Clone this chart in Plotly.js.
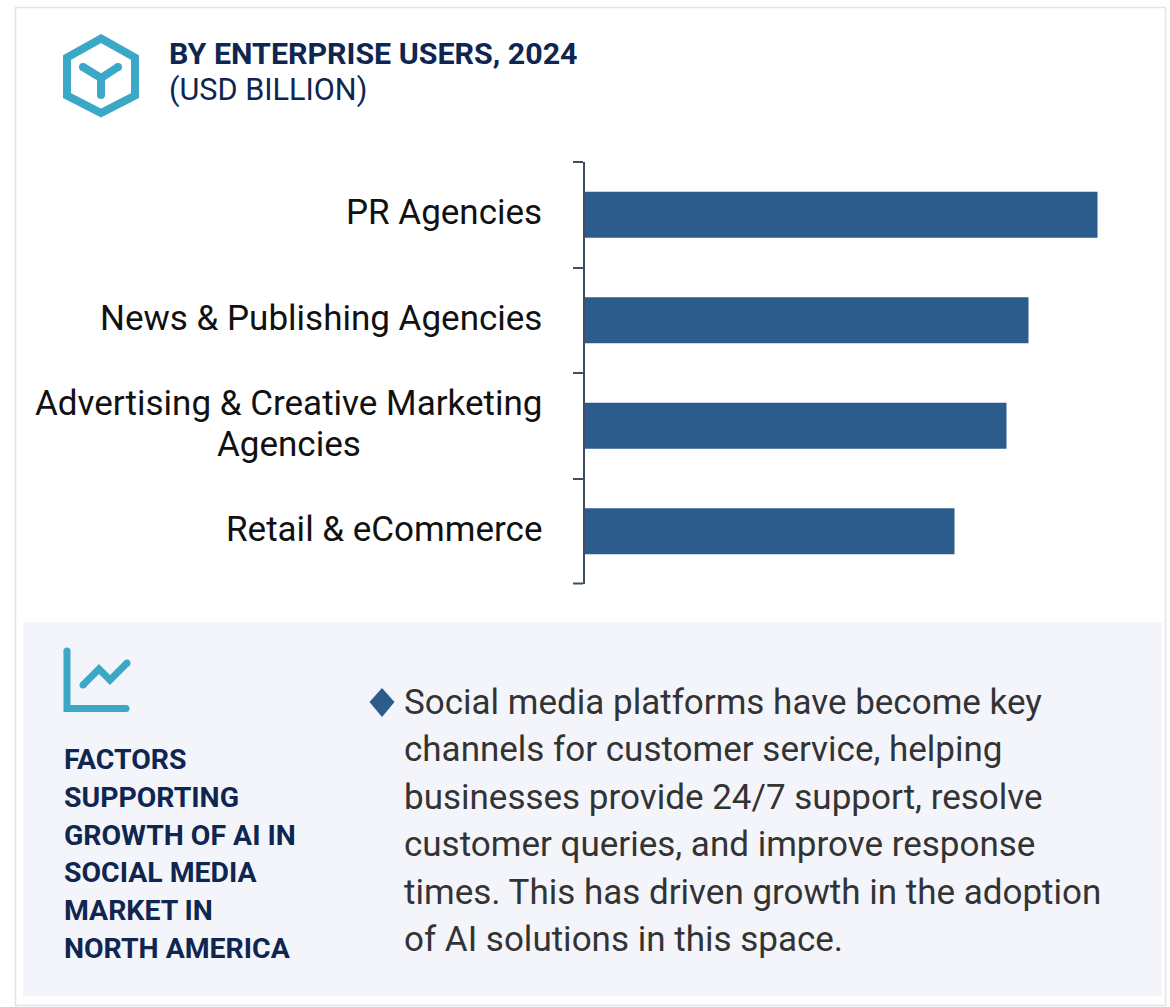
<!DOCTYPE html>
<html><head><meta charset="utf-8">
<script src="https://cdn.plot.ly/plotly-3.0.1.min.js"></script>
<style>html,body{margin:0;padding:0;background:#fff;overflow:hidden}#c{width:1170px;height:1007px}</style>
</head><body><div id="c"></div>
<script>
const categories = ["PR Agencies","News & Publishing Agencies","Advertising & Creative Marketing","Retail & eCommerce"];
const categorySecondLine = "Agencies";
const values = [2.565,2.22,2.11,1.85];
const titleBold = "BY ENTERPRISE USERS, 2024";
const titleUnit = "(USD BILLION)";
const factorLines = ["FACTORS","SUPPORTING","GROWTH OF AI IN","SOCIAL MEDIA","MARKET IN","NORTH AMERICA"];
const bodyLines = ["Social media platforms have become key","channels for customer service, helping","businesses provide 24/7 support, resolve","customer queries, and improve response","times. This has driven growth in the adoption","of AI solutions in this space."];

const W=1170,H=1007;
const px=x=>x/W, py=y=>1-y/H;
const F="Roboto, sans-serif";
const teal="#3aa8c6", navy="#0f2650", bar="#2b5c8c", axisCol="#3f4d66";
function poly(pts,close){return pts.map((p,i)=>(i?"L":"M")+px(p[0]).toFixed(5)+" "+py(p[1]).toFixed(5)).join(" ")+(close?" Z":"");}
function stroke(pts,w,col,close){return {type:"path",xref:"paper",yref:"paper",path:poly(pts,close),line:{color:col,width:w},fillcolor:"rgba(0,0,0,0)",layer:"above"};}
function dot(x,y,r,col){return {type:"circle",xref:"paper",yref:"paper",x0:px(x-r),x1:px(x+r),y0:py(y+r),y1:py(y-r),fillcolor:col,line:{width:0},layer:"above"};}
function rect(x0,y0,x1,y1,fill,line){return {type:"rect",xref:"paper",yref:"paper",x0:px(x0),x1:px(x1),y0:py(y1),y1:py(y0),fillcolor:fill,line:line||{width:0},layer:"below"};}
function label(t,x,y,size,col,bold){return {text:bold?"<b>"+t+"</b>":t,xref:"paper",yref:"paper",x:px(x),y:py(y),xanchor:"left",yanchor:"middle",showarrow:false,align:"left",borderpad:0,font:{family:F,size:size,color:col}};}

const shapes=[
 rect(15.5,7.5,1165.5,1005.5,"#ffffff",{color:"#e2e2ea",width:1.5}),
 rect(23,622,1162,996,"#f4f5fa"),
 stroke([[101,38.5],[135,57.5],[135,95.5],[101,113],[67,95.5],[67,57.5]],8,teal,true),
 stroke([[83,67],[101,78],[118,67]],8,teal),
 stroke([[101,78],[101,95]],8,teal),
 dot(83,67,4,teal),dot(118,67,4,teal),dot(101,95,4,teal),
 stroke([[67,651],[67,708.5],[126,708.5]],7,teal),
 dot(67,651,3.5,teal),dot(126,708.5,3.5,teal),
 stroke([[83,685],[99,669],[110,680],[127,663]],7,teal),
 dot(83,685,3.5,teal),dot(127,663,3.5,teal),
 stroke([[573,583.5],[583,583.5]],2,axisCol),
 {type:"path",xref:"paper",yref:"paper",path:poly([[382,688],[394.5,702],[382,717],[369.5,702]],true),fillcolor:bar,line:{width:0},layer:"above"}
];

const annotations=[
 label(titleBold,168,54,30.4,navy,true),
 label(titleUnit,168,90,30.6,navy,false)
];
categories.forEach((c,i)=>{
 const two=i===2;
 annotations.push({text:c,xref:"paper",yref:"y",x:px(542.5),y:c,xanchor:"right",yanchor:"middle",yshift:two?22:2,align:"right",showarrow:false,borderpad:0,font:{family:F,size:35,color:"#111111"}});
});
annotations.push({text:categorySecondLine,xref:"paper",yref:"y",x:px(288.5),y:categories[2],xanchor:"center",yanchor:"middle",yshift:-19,showarrow:false,borderpad:0,font:{family:F,size:35,color:"#111111"}});
factorLines.forEach((t,i)=>annotations.push(label(t,63,759.5+i*37.8,28.4,navy,true)));
bodyLines.forEach((t,i)=>annotations.push(label(t,402.5,702.5+i*47.4,35,"#333333",false)));

Plotly.newPlot("c",[{type:"bar",orientation:"h",y:categories,x:values,marker:{color:bar,line:{width:0}},hoverinfo:"x+y"}],{
 width:W,height:H,margin:{l:0,r:0,t:0,b:0,pad:0},paper_bgcolor:"#ffffff",plot_bgcolor:"rgba(0,0,0,0)",showlegend:false,bargap:0.565,
 xaxis:{domain:[px(584.5),px(1164.5)],range:[0,2.9],visible:false,fixedrange:true},
 yaxis:{domain:[py(584),py(162)],type:"category",autorange:false,range:[3.5,-0.5],tickson:"boundaries",ticks:"outside",ticklen:10,tickwidth:2,tickcolor:axisCol,showticklabels:false,showgrid:false,zeroline:false,showline:true,linecolor:axisCol,linewidth:2,fixedrange:true},
 shapes,annotations
},{displayModeBar:false,staticPlot:true});
</script></body></html>
